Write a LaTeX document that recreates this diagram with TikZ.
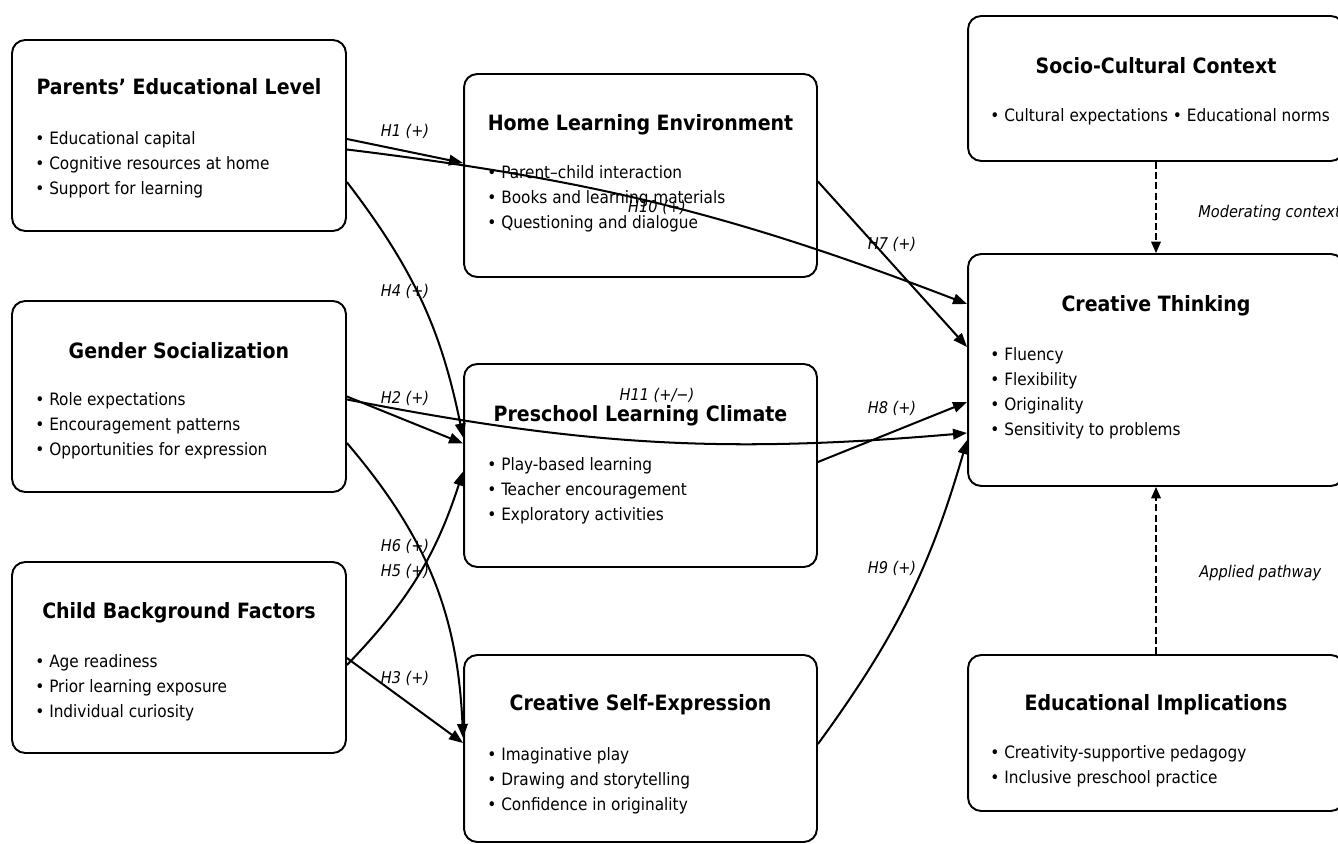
\documentclass[tikz,border=0pt]{standalone}
\usepackage{fontspec}
\setmainfont{DejaVu Sans Condensed}[BoldFont={DejaVu Sans Condensed Bold},ItalicFont={DejaVu Sans Condensed Oblique}]
\usetikzlibrary{arrows.meta,calc}

\tikzset{
  box/.style={draw, line width=1.1pt, rounded corners=7.5pt, fill=white},
  boxtitle/.style={anchor=base, inner sep=0pt, font=\bfseries\fontsize{12}{14}\selectfont},
  items/.style={anchor=north west, align=left, inner sep=0pt, font=\fontsize{9.7}{14.2}\selectfont},
  hyp/.style={inner sep=0pt, font=\itshape\fontsize{9.2}{11}\selectfont},
  arr/.style={line width=1.15pt, -{Triangle[length=8pt,width=6pt]}},
  modarr/.style={line width=0.8pt, dash pattern=on 4pt off 1.8pt, -{Triangle[length=6.5pt,width=5.5pt]}},
}

\begin{document}
\begin{tikzpicture}[x=0.02cm, y=-0.02cm]
\useasboundingbox (0,0) rectangle (1338,844);

% left column
\node[box, minimum width=6.68cm, minimum height=3.82cm] (parents) at (179,135.5) {};
\node[boxtitle] (parentstitle) at (179,95) {Parents’ Educational Level};
\node[items] (parentsitems) at (35,131) {• Educational capital\\• Cognitive resources at home\\• Support for learning};

\node[box, minimum width=6.68cm, minimum height=3.82cm] (gender) at (179,396.5) {};
\node[boxtitle] (gendertitle) at (179,358) {Gender Socialization};
\node[items] (genderitems) at (35,392) {• Role expectations\\• Encouragement patterns\\• Opportunities for expression};

\node[box, minimum width=6.68cm, minimum height=3.82cm] (child) at (179,657.5) {};
\node[boxtitle] (childtitle) at (179,618) {Child Background Factors};
\node[items] (childitems) at (35,654) {• Age readiness\\• Prior learning exposure\\• Individual curiosity};

% middle column
\node[box, minimum width=7.06cm, minimum height=4.06cm] (home) at (640.5,175.5) {};
\node[boxtitle] (hometitle) at (640.5,130.5) {Home Learning Environment};
\node[items] (homeitems) at (487,165) {• Parent–child interaction\\• Books and learning materials\\• Questioning and dialogue};

\node[box, minimum width=7.06cm, minimum height=4.06cm] (preschool) at (640.5,465.5) {};
\node[boxtitle] (preschooltitle) at (640.5,421.5) {Preschool Learning Climate};
\node[items] (preschoolitems) at (487,457) {• Play-based learning\\• Teacher encouragement\\• Exploratory activities};

\node[box, minimum width=7.06cm, minimum height=3.74cm] (cse) at (640.5,748.5) {};
\node[boxtitle] (csetitle) at (640.5,710) {Creative Self-Expression};
\node[items] (cseitems) at (487,747) {• Imaginative play\\• Drawing and storytelling\\• Confidence in originality};

% right column
\node[box, minimum width=7.52cm, minimum height=2.9cm] (socio) at (1156,88.5) {};
\node[boxtitle] (sociotitle) at (1156,74) {Socio-Cultural Context};
\node[items] (socioitems) at (990,108) {• Cultural expectations • Educational norms};

\node[box, minimum width=7.52cm, minimum height=4.64cm] (ct) at (1156,370) {};
\node[boxtitle] (cttitle) at (1156,311.5) {Creative Thinking};
\node[items] (ctitems) at (990,347) {• Fluency\\• Flexibility\\• Originality\\• Sensitivity to problems};

\node[box, minimum width=7.52cm, minimum height=3.12cm] (edu) at (1156,733) {};
\node[boxtitle] (edutitle) at (1156,710) {Educational Implications};
\node[items] (eduitems) at (990,745) {• Creativity-supportive pedagogy\\• Inclusive preschool practice};

% hypothesised paths
\draw[arr] ($(parents.east)+(0,3.5)$) -- ($(home.west)+(0,-12.5)$);
\draw[arr] ($(parents.east)+(0,14)$) to[bend left=7] ($(ct.west)+(0,-66)$);
\draw[arr] ($(parents.east)+(0,46.5)$) to[bend left=13] ($(preschool.west)+(0,-28)$);
\draw[arr] (gender.east) -- ($(preschool.west)+(0,-22)$);
\draw[arr] ($(gender.east)+(0,3)$) to[bend right=8] ($(ct.west)+(0,63)$);
\draw[arr] ($(gender.east)+(0,46.5)$) to[bend left=19] ($(cse.west)+(0,-10.5)$);
\draw[arr] ($(child.east)+(0,7.5)$) to[bend right=13] ($(preschool.west)+(0,6)$);
\draw[arr] ($(child.east)+(0,0.5)$) -- ($(cse.west)+(0,-5.5)$);
\draw[arr] ($(home.east)+(0,6)$) -- ($(ct.west)+(0,-23)$);
\draw[arr] ($(preschool.east)+(0,-3.5)$) -- ($(ct.west)+(0,32)$);
\draw[arr] ($(cse.east)+(0,-4.5)$) to[bend right=10] ($(ct.west)+(0,70)$);

\draw[modarr] (socio.south) -- (ct.north);
\draw[modarr] (edu.north) -- (ct.south);

\node[hyp] (h1) at (405,131) {H1 (+)};
\node[hyp] (h10) at (657,207) {H10 (+)};
\node[hyp] (h4) at (405,291) {H4 (+)};
\node[hyp] (h2) at (405,398) {H2 (+)};
\node[hyp] (h11) at (657,395) {H11 (+/−)};
\node[hyp] (h6) at (405,546) {H6 (+)};
\node[hyp] (h5) at (405,571) {H5 (+)};
\node[hyp] (h3) at (405,678) {H3 (+)};
\node[hyp] (h7) at (892,244) {H7 (+)};
\node[hyp] (h8) at (892,408) {H8 (+)};
\node[hyp] (h9) at (892,568) {H9 (+)};
\node[hyp, anchor=west] (modlabel) at (1198,213) {Moderating context};
\node[hyp, anchor=west] (applabel) at (1199,573) {Applied pathway};
\end{tikzpicture}
\end{document}
